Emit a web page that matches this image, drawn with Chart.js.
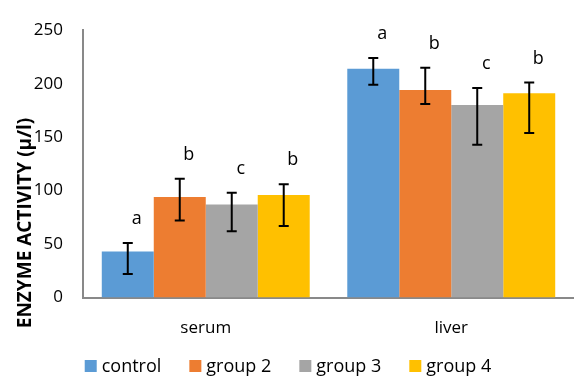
<!DOCTYPE html>
<html>
<head>
<meta charset="utf-8">
<script src="https://cdn.jsdelivr.net/npm/chart.js@4"></script>
<style>
  html, body { margin: 0; padding: 0; background: #fff; }
  #wrap { width: 574px; height: 379px; }
</style>
</head>
<body>
<div id="wrap"><canvas id="enzymeChart"></canvas></div>
<script>
const categories = ['serum', 'liver'];
const seriesNames = ['control', 'group 2', 'group 3', 'group 4'];
const colors = ['#5B9BD5', '#ED7D31', '#A5A5A5', '#FFC000'];

const control = [43, 214];
const group2 = [94, 194];
const group3 = [87, 180];
const group4 = [96, 191];

// error bar ends (lower, upper)
const controlErr = [[22, 51], [199, 224]];
const group2Err = [[72, 111], [181, 215]];
const group3Err = [[62, 98], [143, 196]];
const group4Err = [[67, 106], [154, 201]];

// significance letters
const controlLetters = ['a', 'a'];
const group2Letters = ['b', 'b'];
const group3Letters = ['c', 'c'];
const group4Letters = ['b', 'b'];

const yTicks = [0, 50, 100, 150, 200, 250];

const values = [control, group2, group3, group4];
const errors = [controlErr, group2Err, group3Err, group4Err];
const letters = [controlLetters, group2Letters, group3Letters, group4Letters];

const FONT = "'Open Sans', sans-serif";

const errorBars = {
  id: 'errorBars',
  afterDatasetsDraw(chart) {
    const ctx = chart.ctx;
    const y = chart.scales.y;
    ctx.save();
    chart.data.datasets.forEach((ds, di) => {
      const meta = chart.getDatasetMeta(di);
      meta.data.forEach((bar, i) => {
        const [lo, hi] = errors[di][i];
        const yLo = y.getPixelForValue(lo);
        const yHi = y.getPixelForValue(hi);
        ctx.strokeStyle = '#000';
        ctx.lineWidth = 2;
        ctx.beginPath();
        ctx.moveTo(bar.x, yLo);
        ctx.lineTo(bar.x, yHi);
        ctx.moveTo(bar.x - 5, yLo);
        ctx.lineTo(bar.x + 5, yLo);
        ctx.moveTo(bar.x - 5, yHi);
        ctx.lineTo(bar.x + 5, yHi);
        ctx.stroke();

        ctx.fillStyle = '#000';
        ctx.font = '18px ' + FONT;
        ctx.textAlign = 'center';
        ctx.textBaseline = 'middle';
        ctx.fillText(letters[di][i], bar.x + 9, yHi - 24);
      });
    });
    ctx.restore();
  },
  afterDraw(chart) {
    const ctx = chart.ctx;
    ctx.save();

    // legend row
    ctx.font = '18px ' + FONT;
    ctx.textBaseline = 'middle';
    ctx.textAlign = 'left';
    const box = 12, gap = 5, spacing = 28;
    const widths = seriesNames.map(n => box + gap + ctx.measureText(n).width);
    const total = widths.reduce((a, b) => a + b, 0) + spacing * (widths.length - 1);
    let x = 288 - total / 2;
    const ly = 366;
    seriesNames.forEach((n, i) => {
      ctx.fillStyle = colors[i];
      ctx.fillRect(x, ly - box / 2, box, box);
      ctx.fillStyle = '#000';
      ctx.fillText(n, x + box + gap, ly + 1);
      x += widths[i] + spacing;
    });

    // axis title, drawn over the tick labels like the original
    ctx.translate(26, 223);
    ctx.rotate(-Math.PI / 2);
    ctx.font = 'bold 19px ' + FONT;
    ctx.fillStyle = '#000';
    ctx.textAlign = 'center';
    ctx.fillText('ENZYME ACTIVITY (μ/l)', 0, 0);
    ctx.restore();
  }
};

new Chart(document.getElementById('enzymeChart'), {
  type: 'bar',
  data: {
    labels: categories,
    datasets: seriesNames.map((name, i) => ({
      label: name,
      data: values[i],
      backgroundColor: colors[i],
      borderWidth: 0,
      barPercentage: 1.0,
      categoryPercentage: 0.847
    }))
  },
  options: {
    responsive: true,
    maintainAspectRatio: false,
    animation: false,
    layout: { padding: { top: 17, left: 0, right: 0, bottom: 21 } },
    plugins: {
      tooltip: { enabled: false },
      legend: { display: false }
    },
    scales: {
      x: {
        grid: { display: false, drawTicks: false },
        border: { color: '#898989', width: 2 },
        ticks: { color: '#000', padding: 20, font: { family: FONT, size: 17 } }
      },
      y: {
        min: 0,
        max: 250,
        afterFit(scale) { scale.width = 83; },
        afterBuildTicks(scale) { scale.ticks = yTicks.map(v => ({ value: v })); },
        grid: { display: false, drawTicks: false },
        border: { color: '#898989', width: 2 },
        ticks: { color: '#000', padding: 20, font: { family: FONT, size: 17 } }
      }
    }
  },
  plugins: [errorBars]
});
</script>
</body>
</html>
